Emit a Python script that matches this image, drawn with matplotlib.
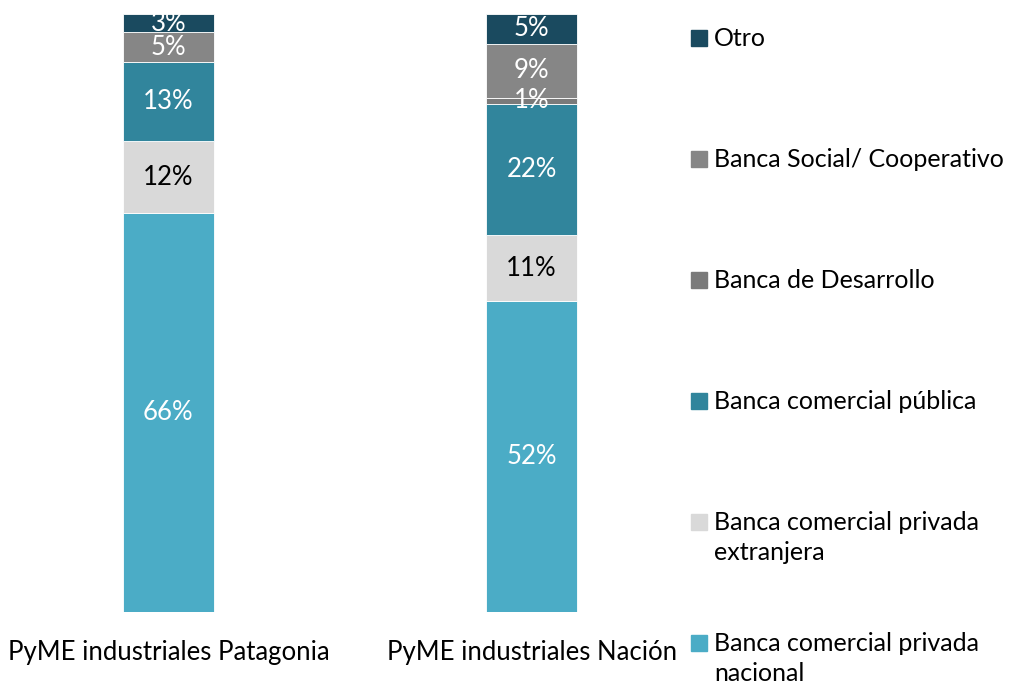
import numpy as np
import matplotlib
matplotlib.use("Agg")
import matplotlib.pyplot as plt
from matplotlib.patches import Rectangle

plt.rcParams['font.family'] = ['Lato', 'DejaVu Sans']

categories = ["PyME industriales Patagonia", "PyME industriales Nación"]
series = ["Banca comercial privada\nnacional",
          "Banca comercial privada\nextranjera",
          "Banca comercial pública",
          "Banca de Desarrollo",
          "Banca Social/ Cooperativo",
          "Otro"]
nacional = [66, 52]
extranjera = [12, 11]
publica = [13, 22]
desarrollo = [0, 1]
social = [5, 9]
otro = [3, 5]

values = np.array([nacional, extranjera, publica, desarrollo, social, otro], dtype=float)
colors = ["#4bacc6", "#d9d9d9", "#31859c", "#7a7a7a", "#868686", "#1a4a5f"]
label_colors = ["white", "black", "white", "white", "white", "white"]

fs = 18.5
fig = plt.figure(figsize=(10.11, 6.88), dpi=100)
ax = fig.add_axes([5 / 1011, 76 / 688, 690 / 1011, 598 / 688])

totals = values.sum(axis=0)
shares = values / totals
x = np.arange(len(categories))
bottom = np.zeros(len(categories))
for i in range(len(series)):
    bars = ax.bar(x, shares[i], 0.25, bottom=bottom, color=colors[i],
                  edgecolor="white", linewidth=0.6)
    labels = ["%d%%" % v if v > 0 else "" for v in values[i]]
    ax.bar_label(bars, labels=labels, label_type="center",
                 color=label_colors[i], fontsize=fs)
    bottom += shares[i]

ax.set_xlim(-0.45, 1.45)
ax.set_ylim(0, 1)
ax.set_yticks([])
ax.set_xticks(x)
ax.set_xticklabels(categories, fontsize=fs)
ax.tick_params(axis="x", length=0, pad=20)
for s in ax.spines.values():
    s.set_visible(False)

# legend, top entry first, evenly spaced
W, H = 1011, 688
for k, i in enumerate(range(len(series) - 1, -1, -1)):
    yc = 37 + k * 121
    fig.add_artist(Rectangle((691 / W, 1 - (yc + 9) / H), 16 / W, 16 / H,
                             color=colors[i], transform=fig.transFigure))
    fig.text(714 / W, 1 - (yc - 10) / H, series[i], fontsize=18,
             va="top", ha="left", linespacing=1.35)

fig.savefig("out.png", dpi=100)
